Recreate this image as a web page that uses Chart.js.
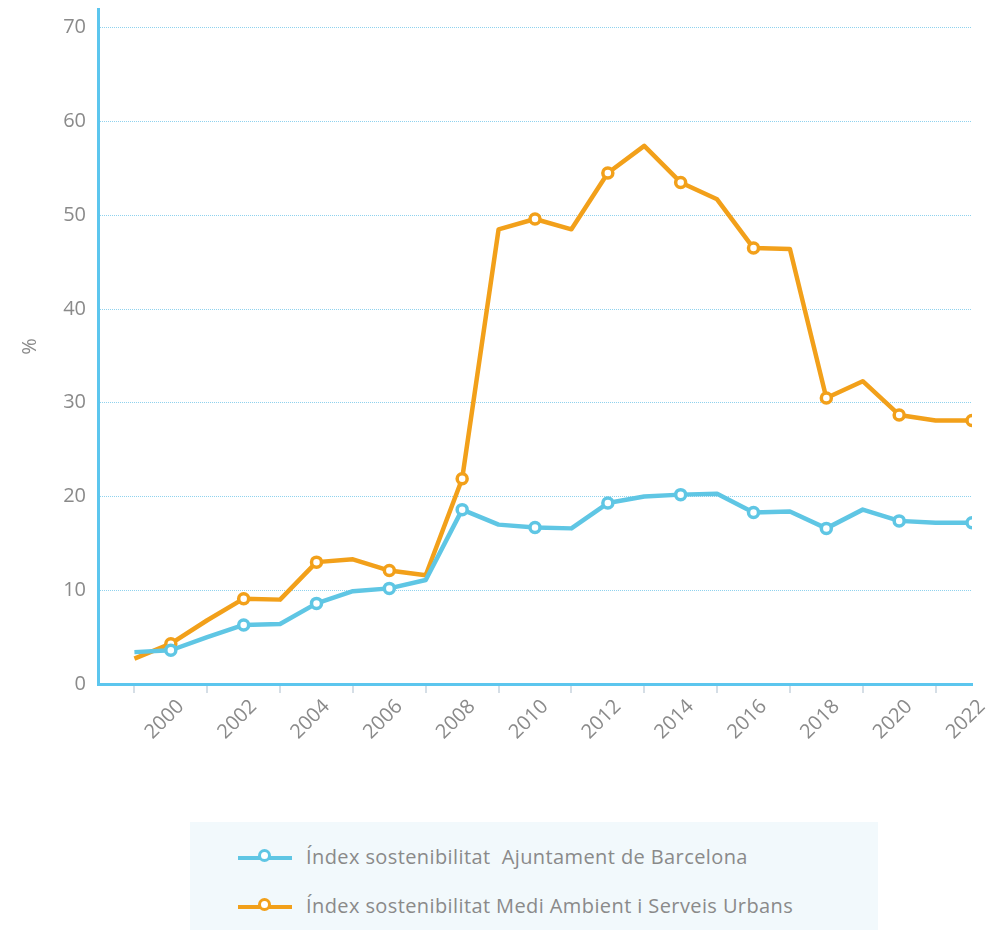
<!DOCTYPE html>
<html>
<head>
<meta charset="utf-8">
<script src="https://cdn.jsdelivr.net/npm/chart.js@4.4.1/dist/chart.umd.min.js"></script>
<style>
  html, body { margin: 0; padding: 0; background: #fff; }
  #wrap { position: relative; width: 992px; height: 932px; font-family: "Open Sans", sans-serif; }
  #box { position: absolute; left: 0; top: 0; width: 992px; height: 800px; }
  #legend { position: absolute; left: 190px; top: 822px; width: 688px; height: 108px; background: #f2f9fc; }
  .item { position: absolute; left: 48px; height: 26px; white-space: pre; color: #8a8a8a; font-size: 20px; letter-spacing: 0.4px; line-height: 26px; }
  .item .ico { position: absolute; left: 0; top: 11px; width: 54px; height: 4px; }
  .item .dot { position: absolute; left: 20px; top: 4px; width: 7px; height: 7px; border-radius: 50%; background: #fff; border: 3.5px solid; }
  .item span.txt { position: absolute; left: 68px; top: -1px; }
</style>
</head>
<body>
<div id="wrap">
  <div id="box"><canvas id="chart"></canvas></div>
  <div id="legend"></div>
</div>
<script>
// Dades
const years = [1999, 2000, 2001, 2002, 2003, 2004, 2005, 2006, 2007, 2008, 2009, 2010,
               2011, 2012, 2013, 2014, 2015, 2016, 2017, 2018, 2019, 2020, 2021, 2022];
const ajuntament = [3.4, 3.6, 5.0, 6.3, 6.4, 8.6, 9.9, 10.2, 11.1, 18.6, 17.0, 16.7,
                    16.6, 19.3, 20.0, 20.2, 20.3, 18.3, 18.4, 16.6, 18.6, 17.4, 17.2, 17.2];
const mediAmbient = [2.7, 4.3, 6.8, 9.1, 9.0, 13.0, 13.3, 12.1, 11.6, 21.9, 48.5, 49.6,
                     48.5, 54.5, 57.4, 53.5, 51.7, 46.5, 46.4, 30.5, 32.3, 28.7, 28.1, 28.1];
const yTicks = [0, 10, 20, 30, 40, 50, 60, 70];
const seriesNames = ['Índex sostenibilitat  Ajuntament de Barcelona',
                     'Índex sostenibilitat Medi Ambient i Serveis Urbans'];

const blue = '#5fc6e4';
const orange = '#f2a01a';
const grey = '#8a8a8a';
const fontFam = '"Open Sans", sans-serif';

function pts(values) {
    return years.map((y, i) => ({ x: y, y: values[i] }));
}

// punts només als anys parells
const radius = ctx => (ctx.raw && ctx.raw.x % 2 === 0) ? 5 : 0;

function serie(label, values, col) {
    return {
        label: label,
        data: pts(values),
        borderColor: col,
        backgroundColor: '#fff',
        borderWidth: 4.5,
        pointRadius: radius,
        pointBorderWidth: 3.5,
        pointBackgroundColor: '#fff',
        borderJoinStyle: 'round',
        tension: 0
    };
}

const ctx = document.getElementById('chart').getContext('2d');
new Chart(ctx, {
    type: 'line',
    data: {
        datasets: [
            serie(seriesNames[0], ajuntament, blue),
            serie(seriesNames[1], mediAmbient, orange)
        ]
    },
    options: {
        responsive: true,
        maintainAspectRatio: false,
        animation: false,
        layout: { padding: { top: 9, right: 20, left: 0, bottom: 0 } },
        plugins: {
            legend: { display: false },
            tooltip: { enabled: false }
        },
        scales: {
            x: {
                type: 'linear',
                min: 1998,
                max: 2022,
                afterBuildTicks: s => { s.ticks = years.map(v => ({ value: v })); },
                afterFit: s => { s.height = 116; },
                border: { color: '#5cc6ee', width: 3 },
                grid: {
                    drawOnChartArea: false,
                    drawTicks: true,
                    tickLength: 9,
                    lineWidth: 2,
                    color: c => (c.tick && c.tick.value % 2 === 1) ? '#d5dee6' : 'rgba(0,0,0,0)'
                },
                ticks: {
                    autoSkip: false,
                    minRotation: 45,
                    maxRotation: 45,
                    padding: 2,
                    labelOffset: 10,
                    color: grey,
                    font: { family: fontFam, size: 20 },
                    callback: v => (v % 2 === 0) ? String(v) : ''
                }
            },
            y: {
                min: 0,
                max: 72,
                afterBuildTicks: s => { s.ticks = yTicks.map(v => ({ value: v })); },
                afterFit: s => { s.width = 98; s.paddingTop = 0; s.paddingBottom = 0; },
                border: { color: '#5cc6ee', width: 3, dash: [1, 1] },
                grid: {
                    drawTicks: false,
                    color: c => (c.tick && c.tick.value === 0) ? 'rgba(0,0,0,0)' : '#8fd2ee',
                    lineWidth: 1
                },
                ticks: {
                    padding: 12,
                    color: grey,
                    font: { family: fontFam, size: 20 }
                },
                title: {
                    display: true,
                    text: '%',
                    color: grey,
                    padding: { top: 18, bottom: 0 },
                    font: { family: fontFam, size: 20 }
                }
            }
        }
    }
});

// llegenda HTML
const legend = document.getElementById('legend');
[blue, orange].forEach((col, i) => {
    const it = document.createElement('div');
    it.className = 'item';
    it.style.top = (i === 0 ? 23 : 72) + 'px';
    it.innerHTML = '<div class="ico" style="background:' + col + '"></div>' +
        '<div class="dot" style="border-color:' + col + '"></div>' +
        '<span class="txt"></span>';
    it.querySelector('.txt').textContent = seriesNames[i];
    legend.appendChild(it);
});
</script>
</body>
</html>
